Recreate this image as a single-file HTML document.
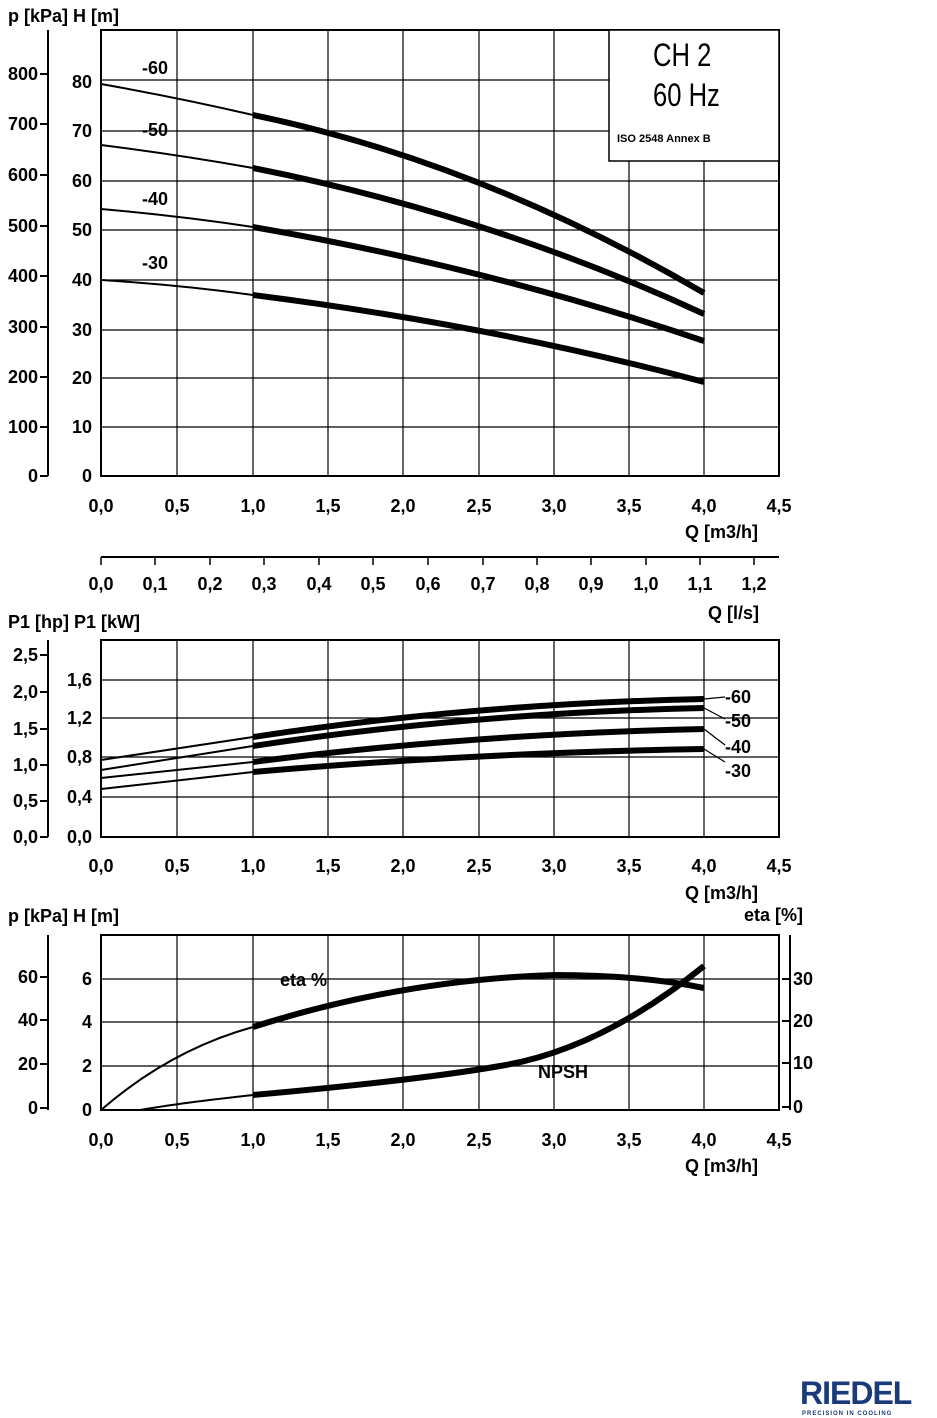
<!DOCTYPE html>
<html><head><meta charset="utf-8"><style>
html,body{margin:0;padding:0;background:#fff;}
svg{display:block;}
text{font-family:"Liberation Sans Narrow","Liberation Sans",sans-serif;font-size:18px;fill:#000;font-weight:bold;}
</style></head><body>
<svg width="937" height="1418" viewBox="0 0 937 1418" xmlns="http://www.w3.org/2000/svg">
<g stroke="#000" fill="none">
<rect x="101" y="30" width="678" height="446" stroke-width="2"/>
<g stroke-width="1.2">
<line x1="177" y1="30" x2="177" y2="476"/><line x1="253" y1="30" x2="253" y2="476"/>
<line x1="328" y1="30" x2="328" y2="476"/><line x1="403" y1="30" x2="403" y2="476"/>
<line x1="479" y1="30" x2="479" y2="476"/><line x1="554" y1="30" x2="554" y2="476"/>
<line x1="629" y1="30" x2="629" y2="476"/><line x1="704" y1="30" x2="704" y2="476"/>
<line x1="101" y1="80" x2="779" y2="80"/><line x1="101" y1="131" x2="779" y2="131"/>
<line x1="101" y1="181" x2="779" y2="181"/><line x1="101" y1="230" x2="779" y2="230"/>
<line x1="101" y1="280" x2="779" y2="280"/><line x1="101" y1="330" x2="779" y2="330"/>
<line x1="101" y1="378" x2="779" y2="378"/><line x1="101" y1="427" x2="779" y2="427"/>
</g>
<line x1="48" y1="30" x2="48" y2="476" stroke-width="2"/>
<g stroke-width="2">
<line x1="40" y1="74" x2="48" y2="74"/><line x1="40" y1="124" x2="48" y2="124"/><line x1="40" y1="175" x2="48" y2="175"/>
<line x1="40" y1="226" x2="48" y2="226"/><line x1="40" y1="276" x2="48" y2="276"/><line x1="40" y1="327" x2="48" y2="327"/>
<line x1="40" y1="377" x2="48" y2="377"/><line x1="40" y1="427" x2="48" y2="427"/><line x1="40" y1="476" x2="48" y2="476"/>
</g>
<rect x="609" y="30" width="170" height="131" fill="#fff" stroke-width="1.5"/>
<path d="M101,84 Q180,98 253,115" stroke-width="2"/>
<path d="M253,115 Q480,162 704,293" stroke-width="6"/>
<path d="M101,145 Q180,155 253,168" stroke-width="2"/>
<path d="M253,168 Q490,215 704,314" stroke-width="6"/>
<path d="M101,209 Q180,216 253,227" stroke-width="2"/>
<path d="M253,227 Q490,268 704,341" stroke-width="6"/>
<path d="M101,280 Q180,285 253,295" stroke-width="2"/>
<path d="M253,295 Q490,325 704,382" stroke-width="6"/>
<line x1="101" y1="557" x2="779" y2="557" stroke-width="2"/>
<g stroke-width="1.5">
<line x1="101" y1="557" x2="101" y2="565"/><line x1="155" y1="557" x2="155" y2="565"/><line x1="210" y1="557" x2="210" y2="565"/>
<line x1="264" y1="557" x2="264" y2="565"/><line x1="319" y1="557" x2="319" y2="565"/><line x1="373" y1="557" x2="373" y2="565"/>
<line x1="428" y1="557" x2="428" y2="565"/><line x1="483" y1="557" x2="483" y2="565"/><line x1="537" y1="557" x2="537" y2="565"/>
<line x1="591" y1="557" x2="591" y2="565"/><line x1="646" y1="557" x2="646" y2="565"/><line x1="700" y1="557" x2="700" y2="565"/>
<line x1="754" y1="557" x2="754" y2="565"/>
</g>
<rect x="101" y="640" width="678" height="197" stroke-width="2"/>
<g stroke-width="1.2">
<line x1="177" y1="640" x2="177" y2="837"/><line x1="253" y1="640" x2="253" y2="837"/>
<line x1="328" y1="640" x2="328" y2="837"/><line x1="403" y1="640" x2="403" y2="837"/>
<line x1="479" y1="640" x2="479" y2="837"/><line x1="554" y1="640" x2="554" y2="837"/>
<line x1="629" y1="640" x2="629" y2="837"/><line x1="704" y1="640" x2="704" y2="837"/>
<line x1="101" y1="680" x2="779" y2="680"/><line x1="101" y1="718" x2="779" y2="718"/>
<line x1="101" y1="757" x2="779" y2="757"/><line x1="101" y1="797" x2="779" y2="797"/>
</g>
<line x1="48" y1="640" x2="48" y2="837" stroke-width="2"/>
<g stroke-width="2">
<line x1="40" y1="655" x2="48" y2="655"/><line x1="40" y1="692" x2="48" y2="692"/><line x1="40" y1="729" x2="48" y2="729"/>
<line x1="40" y1="765" x2="48" y2="765"/><line x1="40" y1="801" x2="48" y2="801"/><line x1="40" y1="837" x2="48" y2="837"/>
</g>
<path d="M101,760 L253,737" stroke-width="2"/><path d="M253,737 Q470,704 704,699" stroke-width="6"/>
<path d="M101,770 L253,746" stroke-width="2"/><path d="M253,746 Q470,713 704,708" stroke-width="6"/>
<path d="M101,778 L253,762" stroke-width="2"/><path d="M253,762 Q470,734 704,729" stroke-width="6"/>
<path d="M101,789 L253,772" stroke-width="2"/><path d="M253,772 Q470,753 704,749" stroke-width="6"/>
<g stroke-width="1.2">
<line x1="704" y1="699" x2="725" y2="697"/><line x1="704" y1="708" x2="725" y2="719"/>
<line x1="704" y1="729" x2="725" y2="745"/><line x1="704" y1="749" x2="725" y2="762"/>
</g>
<rect x="101" y="935" width="678" height="175" stroke-width="2"/>
<g stroke-width="1.2">
<line x1="177" y1="935" x2="177" y2="1110"/><line x1="253" y1="935" x2="253" y2="1110"/>
<line x1="328" y1="935" x2="328" y2="1110"/><line x1="403" y1="935" x2="403" y2="1110"/>
<line x1="479" y1="935" x2="479" y2="1110"/><line x1="554" y1="935" x2="554" y2="1110"/>
<line x1="629" y1="935" x2="629" y2="1110"/><line x1="704" y1="935" x2="704" y2="1110"/>
<line x1="101" y1="979" x2="779" y2="979"/><line x1="101" y1="1022" x2="779" y2="1022"/>
<line x1="101" y1="1066" x2="779" y2="1066"/>
</g>
<line x1="48" y1="935" x2="48" y2="1110" stroke-width="2"/>
<g stroke-width="2">
<line x1="40" y1="977" x2="48" y2="977"/><line x1="40" y1="1020" x2="48" y2="1020"/>
<line x1="40" y1="1064" x2="48" y2="1064"/><line x1="40" y1="1108" x2="48" y2="1108"/>
</g>
<line x1="790" y1="935" x2="790" y2="1110" stroke-width="2"/>
<g stroke-width="2">
<line x1="782" y1="979" x2="790" y2="979"/><line x1="782" y1="1021" x2="790" y2="1021"/>
<line x1="782" y1="1063" x2="790" y2="1063"/><line x1="782" y1="1107" x2="790" y2="1107"/>
</g>
<path d="M101,1110 Q170,1050 253,1027" stroke-width="2"/>
<path d="M253,1027 Q400,980 554,975 Q640,975 704,988" stroke-width="6"/>
<path d="M140,1110 Q180,1103 253,1095" stroke-width="2"/>
<path d="M253,1095 Q420,1080 500,1066 Q600,1050 704,966" stroke-width="6"/>
</g>
<text x="8" y="22">p  [kPa] H  [m]</text>
<g text-anchor="end">
<text x="38" y="80">800</text><text x="38" y="130">700</text><text x="38" y="181">600</text>
<text x="38" y="232">500</text><text x="38" y="282">400</text><text x="38" y="333">300</text>
<text x="38" y="383">200</text><text x="38" y="433">100</text><text x="38" y="482">0</text>
<text x="92" y="88">80</text><text x="92" y="137">70</text><text x="92" y="187">60</text>
<text x="92" y="236">50</text><text x="92" y="286">40</text><text x="92" y="336">30</text>
<text x="92" y="384">20</text><text x="92" y="433">10</text><text x="92" y="482">0</text>
</g>
<text x="142" y="74">-60</text><text x="142" y="136">-50</text><text x="142" y="205">-40</text><text x="142" y="269">-30</text>
<text transform="translate(653,66) scale(0.8,1)" style="font-size:32px;font-weight:normal">CH  2</text>
<text transform="translate(653,106) scale(0.8,1)" style="font-size:32px;font-weight:normal">60  Hz</text>
<text x="617" y="142" style="font-size:11px;font-weight:bold;font-family:'Liberation Sans',sans-serif">ISO   2548   Annex   B</text>
<g text-anchor="middle">
<text x="101" y="512">0,0</text><text x="177" y="512">0,5</text><text x="253" y="512">1,0</text>
<text x="328" y="512">1,5</text><text x="403" y="512">2,0</text><text x="479" y="512">2,5</text>
<text x="554" y="512">3,0</text><text x="629" y="512">3,5</text><text x="704" y="512">4,0</text><text x="779" y="512">4,5</text>
</g>
<text x="685" y="538">Q  [m3/h]</text>
<g text-anchor="middle">
<text x="101" y="590">0,0</text><text x="155" y="590">0,1</text><text x="210" y="590">0,2</text>
<text x="264" y="590">0,3</text><text x="319" y="590">0,4</text><text x="373" y="590">0,5</text>
<text x="428" y="590">0,6</text><text x="483" y="590">0,7</text><text x="537" y="590">0,8</text>
<text x="591" y="590">0,9</text><text x="646" y="590">1,0</text><text x="700" y="590">1,1</text><text x="754" y="590">1,2</text>
</g>
<text x="708" y="619">Q  [l/s]</text>
<text x="8" y="628">P1  [hp] P1  [kW]</text>
<g text-anchor="end">
<text x="38" y="661">2,5</text><text x="38" y="698">2,0</text><text x="38" y="735">1,5</text>
<text x="38" y="771">1,0</text><text x="38" y="807">0,5</text><text x="38" y="843">0,0</text>
<text x="92" y="686">1,6</text><text x="92" y="724">1,2</text><text x="92" y="763">0,8</text>
<text x="92" y="803">0,4</text><text x="92" y="843">0,0</text>
</g>
<text x="725" y="703">-60</text><text x="725" y="727">-50</text><text x="725" y="753">-40</text><text x="725" y="777">-30</text>
<g text-anchor="middle">
<text x="101" y="872">0,0</text><text x="177" y="872">0,5</text><text x="253" y="872">1,0</text>
<text x="328" y="872">1,5</text><text x="403" y="872">2,0</text><text x="479" y="872">2,5</text>
<text x="554" y="872">3,0</text><text x="629" y="872">3,5</text><text x="704" y="872">4,0</text><text x="779" y="872">4,5</text>
</g>
<text x="685" y="899">Q  [m3/h]</text>
<text x="8" y="922">p  [kPa] H  [m]</text>
<text x="744" y="921">eta  [%]</text>
<g text-anchor="end">
<text x="38" y="983">60</text><text x="38" y="1026">40</text><text x="38" y="1070">20</text><text x="38" y="1114">0</text>
<text x="92" y="985">6</text><text x="92" y="1028">4</text><text x="92" y="1072">2</text><text x="92" y="1116">0</text>
</g>
<text x="793" y="985">30</text><text x="793" y="1027">20</text><text x="793" y="1069">10</text><text x="793" y="1113">0</text>
<text x="280" y="986">eta  %</text>
<text x="538" y="1078">NPSH</text>
<g text-anchor="middle">
<text x="101" y="1146">0,0</text><text x="177" y="1146">0,5</text><text x="253" y="1146">1,0</text>
<text x="328" y="1146">1,5</text><text x="403" y="1146">2,0</text><text x="479" y="1146">2,5</text>
<text x="554" y="1146">3,0</text><text x="629" y="1146">3,5</text><text x="704" y="1146">4,0</text><text x="779" y="1146">4,5</text>
</g>
<text x="685" y="1172">Q  [m3/h]</text>
<text x="800" y="1404" style="font-size:32px;font-weight:bold;fill:#1a3a7a;letter-spacing:-1px;font-family:'Liberation Sans',sans-serif">RIEDEL</text>
<text x="802" y="1415" style="font-size:6px;fill:#1a3a7a;letter-spacing:1px;font-family:'Liberation Sans',sans-serif">PRECISION IN COOLING</text>
</svg>
</body></html>
